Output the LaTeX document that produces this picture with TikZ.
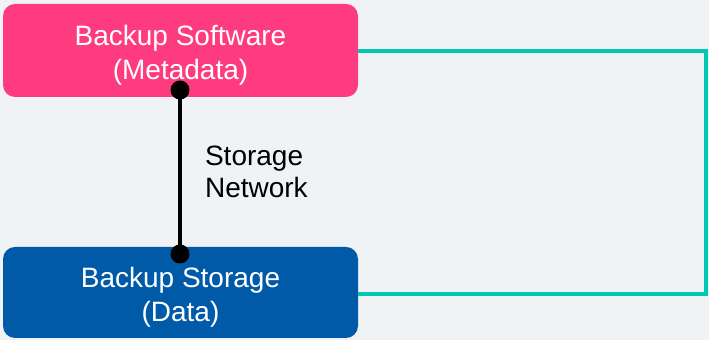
\documentclass[tikz,border=0pt]{standalone}
\usepackage{fontspec}
\setmainfont{Liberation Sans}
\usepackage{tikz}

\definecolor{bg}{RGB}{240,243,246}
\definecolor{swpink}{RGB}{255,59,127}
\definecolor{stblue}{RGB}{0,90,168}
\definecolor{linkteal}{RGB}{0,200,180}

\newcommand{\lowtop}{\rule{0pt}{15pt}}

\begin{document}
\begin{tikzpicture}[
                    x=0.5pt, y=-0.5pt,
                    box/.style={
                        rectangle,
                        rounded corners=6pt,
                        minimum width=177.5pt,
                        text=white,
                        align=center,
                        font=\fontsize{14}{16.8}\selectfont
                    },
                    dot/.style={
                        circle,
                        fill=black,
                        inner sep=0pt,
                        minimum size=9.5pt
                    }
                ]
                    \fill[bg] (0,0) rectangle (709,340);
                    \useasboundingbox (0,0) rectangle (709,340);

                    \node[box, fill=swpink, minimum height=46.5pt] (sw) at (180.5,50.5) {\lowtop Backup Software\\(Metadata)};
                    \node[box, fill=stblue, minimum height=45.5pt] (st) at (180.5,292.5) {\lowtop Backup Storage\\(Data)};

                    \node[dot] (top) at (180,90) {};
                    \node[dot] (bot) at (180,254) {};
                    \node[align=left, anchor=west, font=\fontsize{14}{16.2}\selectfont] (net) at (198,172) {Storage\\Network};

                    \coordinate (tr) at (706,51);
                    \coordinate (br) at (706,294);

                    % Edges
                    \draw[line width=2pt] (top.center) -- (bot.center);
                    \draw[linkteal, line width=2pt] (sw.east |- tr) -- (tr) -- (br) -- (st.east |- br);
                \end{tikzpicture}
\end{document}
